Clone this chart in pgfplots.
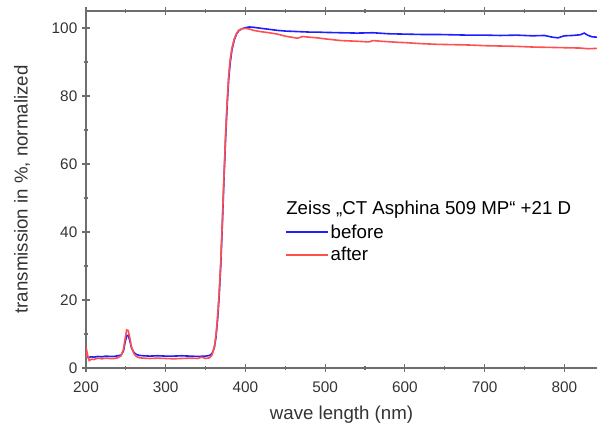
\documentclass[border=0pt]{standalone}
\usepackage{fontspec}
\setmainfont{Liberation Sans}
\usepackage{pgfplots}
\pgfplotsset{compat=1.18}
\definecolor{beforeblue}{HTML}{1E1EFF}
\definecolor{afterred}{HTML}{FF5050}
\definecolor{axisgray}{HTML}{6E6E6E}
\definecolor{textgray}{HTML}{333333}

\begin{document}
\begin{tikzpicture}
\begin{axis}[
    scale only axis,
    width=383.25pt, height=267.75pt,
    xmin=200, xmax=841, ymin=0, ymax=105,
    axis x line=box, axis y line=left,
    axis line style={-, draw=axisgray, line width=1.1pt},
    xtick={200,300,...,800}, minor xtick={250,350,...,850},
    ytick={0,20,...,100}, minor ytick={10,30,...,90},
    tick align=center,
    major tick length=6pt, minor tick length=3pt,
    every tick/.style={draw=axisgray, line width=0.9pt},
    /pgf/number format/assume math mode=true,
    ticklabel style={font=\fontsize{11.5}{13}\selectfont, text=textgray},
    xticklabel style={yshift=-4pt},
    xlabel={wave length (nm)}, ylabel={transmission in \%, normalized},
    label style={font=\fontsize{14}{16}\selectfont, text=textgray},
    xlabel style={at={(axis description cs:0.5,0)}, anchor=center, yshift=-35pt},
    ylabel style={at={(axis description cs:0,0.5)}, anchor=center, rotate=0, yshift=48pt},
    legend style={at={(axis description cs:0.3915,0.41)}, anchor=north west,
        draw=none, fill=none, inner sep=0pt,
        font=\fontsize{14}{16.9}\selectfont,
        row sep=1.5pt},
    legend cell align=left,
    legend image code/.code={\fill[#1, draw=none] (0cm,-0.65pt) rectangle (1.1cm,0.65pt);},
]
\addplot[beforeblue, line width=1.2pt] coordinates {
(200,3.6) (203,3.0) (206,3.3) (210,3.2) (215,3.4) (220,3.3) (225,3.5) (230,3.4)
(235,3.4) (240,3.6) (244,3.8) (247,5.0) (249,7.5) (251,9.5) (253,9.6) (255,8.0)
(257,6.0) (260,4.6) (263,4.0) (267,3.7) (272,3.6) (280,3.5) (290,3.6) (300,3.5)
(310,3.5) (320,3.6) (330,3.5) (340,3.4) (350,3.5) (355,3.7) (358,4.2) (361,6.0)
(363,9.0) (365,14) (367,21) (369,30) (371,42) (373,55) (375,67) (377,77) (379,85)
(381,90) (383,93.5) (386,96.5) (389,98.3) (392,99.3) (396,99.8) (400,100.1)
(405,100.3) (410,100.2) (420,99.9) (430,99.6) (440,99.3) (450,99.1) (460,99.0)
(470,98.9) (480,98.8) (490,98.8) (500,98.7) (520,98.6) (540,98.5) (560,98.6)
(580,98.3) (600,98.2) (620,98.1) (640,98.1) (660,98.0) (680,97.9) (700,97.9)
(720,97.8) (740,97.9) (760,97.7) (775,97.8) (785,97.3) (792,97.1) (800,97.7)
(810,97.8) (820,98.0) (825,98.5) (830,97.8) (835,97.4) (841,97.3)
};
\addlegendentry{before}
\addplot[afterred, line width=1.2pt] coordinates {
(200,3.0) (201,5.0) (202,3.8) (204,2.2) (207,2.6) (210,2.5) (215,2.9) (220,2.7)
(225,2.9) (230,2.8) (235,2.8) (240,3.0) (244,3.6) (247,5.5) (249,8.5) (251,11.2)
(253,11.0) (255,8.8) (257,6.2) (260,4.3) (263,3.4) (267,3.0) (272,2.9) (280,2.8)
(290,2.9) (300,2.8) (310,2.7) (320,2.8) (330,2.9) (340,2.8) (345,3.2) (350,2.8)
(355,3.0) (358,3.8) (361,6.2) (363,9.5) (365,15) (367,22) (369,31) (371,43)
(373,56) (375,68) (377,78) (379,86) (381,91) (383,94) (386,96.8) (389,98.5)
(392,99.4) (396,99.8) (400,99.9) (405,99.7) (410,99.3) (420,98.9) (430,98.6)
(440,98.2) (450,97.6) (460,97.2) (465,97.0) (472,97.5) (480,97.3) (490,97.1)
(500,96.8) (520,96.3) (540,96.1) (555,95.9) (560,96.3) (570,96.1) (590,95.8)
(600,95.7) (620,95.4) (640,95.2) (660,95.1) (680,95.0) (700,94.8) (720,94.7)
(740,94.6) (760,94.4) (780,94.3) (800,94.2) (820,94.1) (830,93.9) (841,94.0)
};
\addlegendentry{after}
\node[anchor=west, inner sep=0pt, font=\fontsize{14}{16.9}\selectfont]
    at (axis description cs:0.3915,0.443) {Zeiss „CT Asphina 509 MP“ +21 D};
\end{axis}
\pgfresetboundingbox
\path (current axis.south west) ++(-64.5pt,-42pt) coordinate (bbl);
\path (current axis.north east) ++(0pt,8.25pt) coordinate (btr);
\useasboundingbox (bbl) rectangle (btr);
\end{tikzpicture}
\end{document}
